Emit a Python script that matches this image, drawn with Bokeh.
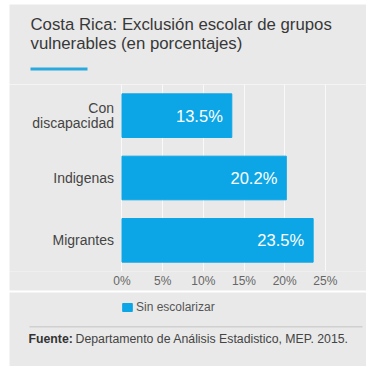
from bokeh.plotting import figure
from bokeh.models import (Range1d, FactorRange, Label, BoxAnnotation, ColumnDataSource,
                          FixedTicker, Spacer, Legend, LegendItem)
from bokeh.layouts import column
from bokeh.core.properties import value
from bokeh.embed import file_html
from bokeh.resources import INLINE

# ---- data ----
categories = ["Migrantes", "Indigenas", "Con discapacidad"]
category_labels = ["Migrantes", "Indigenas", "Con\ndiscapacidad"]
values = [23.5, 20.2, 13.5]
value_labels = ["23.5%", "20.2%", "13.5%"]
x_ticks = [0, 5, 10, 15, 20, 25]
x_tick_labels = ["0%", "5%", "10%", "15%", "20%", "25%"]
series_name = "Sin escolarizar"
title_line1 = "Costa Rica: Exclusión escolar de grupos"
title_line2 = "vulnerables (en porcentajes)"
source_bold = "Fuente:"
source_text = "Departamento de Análisis Estadistico,  MEP. 2015."

FONT = "Liberation Sans"
BG = "#e9e9e9"
BLUE = "#0ca6e6"
W = 366
ML = 9  # white margin left


def styled(fig):
    fig.background_fill_color = BG
    fig.border_fill_color = "white"
    fig.outline_line_color = None
    return fig


# ---- title figure ----
HA = 80
pa = styled(figure(width=W, height=HA, output_backend="svg", toolbar_location=None,
                   x_range=Range1d(0, W - ML), y_range=Range1d(0, HA),
                   x_axis_type=None, y_axis_type=None, min_border=0, min_border_left=ML))
pa.add_layout(Label(x=21, y=HA - 29, text=title_line1, text_font=FONT,
                    text_font_size="16.8px", text_color="#383838"))
pa.add_layout(Label(x=21, y=HA - 48, text=title_line2, text_font=FONT,
                    text_font_size="16.8px", text_color="#383838"))
pa.add_layout(BoxAnnotation(left=21, right=78, bottom=HA - 66, top=HA - 63,
                            fill_color="#2aa9df", fill_alpha=1, line_color=None))

# ---- main chart ----
HB = 208
src = ColumnDataSource(dict(cat=categories, val=values, lab=value_labels,
                            clab=category_labels, zero=[0] * len(values)))
pb = styled(figure(width=W, height=HB, output_backend="svg", toolbar_location=None,
                   y_range=FactorRange(*categories, range_padding=0),
                   x_range=Range1d(-13.83, 30.06),
                   min_border_left=ML, min_border_right=0, min_border_top=0,
                   min_border_bottom=21))
r = pb.hbar(y="cat", right="val", left=0, height=0.7, source=src, color=BLUE)
pb.text(x="val", y="cat", text="lab", source=src, x_offset=-9, text_align="right",
        text_baseline="middle", text_color="white", text_font_size="16.5px",
        text_font=value(FONT))
pb.text(x="zero", y="cat", text="clab", source=src, x_offset=-8, text_align="right",
        text_baseline="middle", text_color="#444444", text_font_size="14px",
        text_font=value(FONT), text_line_height=0.9)

pb.yaxis.visible = False
pb.xaxis.ticker = FixedTicker(ticks=x_ticks)
pb.xaxis.major_label_overrides = dict(zip(x_ticks, x_tick_labels))
pb.xaxis.axis_line_color = None
pb.xaxis.major_tick_line_color = None
pb.xaxis.minor_tick_line_color = None
pb.xaxis.major_tick_out = 0
pb.xaxis.major_tick_in = 0
pb.xaxis.major_label_standoff = 2
pb.xaxis.major_label_text_font = FONT
pb.xaxis.major_label_text_font_size = "12px"
pb.xaxis.major_label_text_color = "#666666"
pb.xaxis.background_fill_color = BG
pb.ygrid.grid_line_color = None
pb.xgrid.grid_line_color = "white"
pb.xgrid.grid_line_alpha = 0.7

# ---- legend + footer ----
HC = 74
pc = styled(figure(width=W, height=HC, output_backend="svg", toolbar_location=None,
                   x_range=Range1d(0, W - ML), y_range=Range1d(0, HC),
                   x_axis_type=None, y_axis_type=None, min_border=0, min_border_left=ML))
# legend proxy: a single off-screen bar so the legend can draw its swatch
swatch = pc.hbar(y=[-50], right=[1], left=0, height=1, color=BLUE)
leg = Legend(items=[LegendItem(label=series_name, renderers=[swatch])],
             location=(112, 52), orientation="horizontal",
             background_fill_alpha=0, border_line_color=None, padding=0, margin=0,
             glyph_width=12, glyph_height=10, label_height=10, label_text_font=FONT,
             label_text_font_size="12px", label_text_color="#555555", label_standoff=3)
pc.add_layout(leg, "center")
pc.add_layout(BoxAnnotation(left=20, right=353, bottom=HC - 35, top=HC - 33.5,
                            fill_color="#d0d0d0", fill_alpha=1, line_color=None))
pc.add_layout(Label(x=19, y=HC - 53, text=source_bold, text_font=FONT,
                    text_font_size="12.3px", text_font_style="bold", text_color="#333333"))
pc.add_layout(Label(x=66, y=HC - 53, text=source_text, text_font=FONT,
                    text_font_size="12.3px", text_color="#444444"))

layout = column(Spacer(height=4), pa, pb, pc)
open("out.html", "w").write(file_html(layout, INLINE))
